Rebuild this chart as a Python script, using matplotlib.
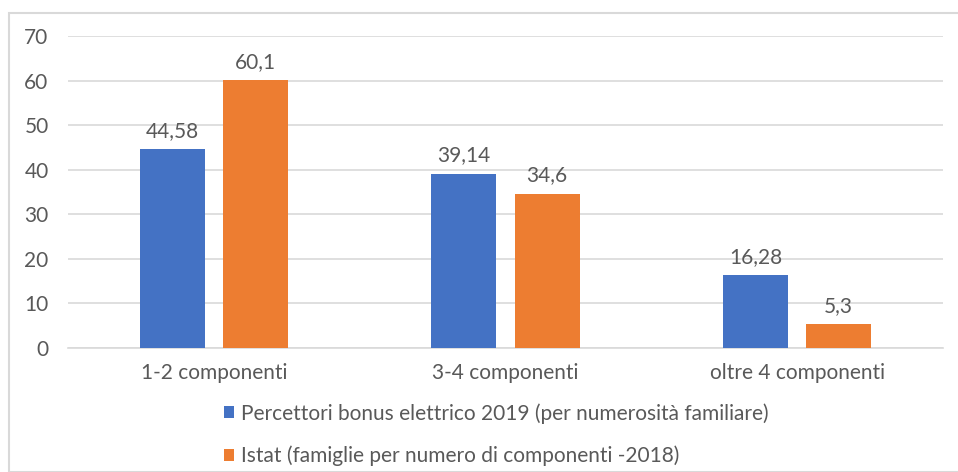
import matplotlib
matplotlib.use("Agg")
import matplotlib.pyplot as plt
import numpy as np
from matplotlib.patches import Rectangle

categories = ["1-2 componenti", "3-4 componenti", "oltre 4 componenti"]
series_names = [
    "Percettori bonus elettrico 2019 (per numerosità familiare)",
    "Istat (famiglie per numero di componenti -2018)",
]
bonus_2019 = [44.58, 39.14, 16.28]
istat_2018 = [60.1, 34.6, 5.3]
yticks = [0, 10, 20, 30, 40, 50, 60, 70]

BLUE = "#4472C4"
ORANGE = "#ED7D31"
GRID = "#D9D9D9"
TEXT = "#595959"

plt.rcParams["font.family"] = ["Lato", "DejaVu Sans"]
FS = 15

W, H = 958, 472
fig = plt.figure(figsize=(W / 100, H / 100), dpi=100)
fig.patch.set_facecolor("white")

# chart area border
fig.add_artist(Rectangle((9 / W, 0), 1.2, (H - 13) / H, transform=fig.transFigure,
                         fill=False, edgecolor=GRID, linewidth=1.5))

ax = fig.add_axes([68 / W, (H - 348) / H, (943 - 68) / W, (348 - 36) / H])
x = np.arange(len(categories))
bw = 0.223
gap = 0.062
off = (bw + gap) / 2

def fmt(v):
    return ("%g" % v).replace(".", ",")

b1 = ax.bar(x - off, bonus_2019, bw, color=BLUE, label=series_names[0], zorder=3)
b2 = ax.bar(x + off, istat_2018, bw, color=ORANGE, label=series_names[1], zorder=3)
for bars, vals in ((b1, bonus_2019), (b2, istat_2018)):
    for r, v in zip(bars, vals):
        ax.annotate(fmt(v), (r.get_x() + r.get_width() / 2, v), xytext=(0, 6),
                    textcoords="offset points", ha="center", va="bottom",
                    fontsize=FS, color=TEXT)

ax.set_xlim(-0.5, len(categories) - 0.5)
ax.set_ylim(0, 70)
ax.set_yticks(yticks)
ax.set_xticks(x)
ax.set_xticklabels(categories)
ax.tick_params(axis="both", length=0, labelsize=FS, labelcolor=TEXT)
ax.tick_params(axis="y", pad=14)
ax.tick_params(axis="x", pad=11)
ax.grid(axis="y", color=GRID, linewidth=1.2, zorder=0)
for s in ["top", "right", "left"]:
    ax.spines[s].set_visible(False)
ax.spines["bottom"].set_color(GRID)
ax.spines["bottom"].set_linewidth(1.2)

leg = fig.legend(handles=[b1, b2], loc="upper left", bbox_to_anchor=(224 / W, (H - 403) / H),
                 frameon=False, fontsize=FS, labelcolor=TEXT, handlelength=0.5,
                 handleheight=0.5, handletextpad=0.3, labelspacing=1.05, borderpad=0,
                 borderaxespad=0)

fig.savefig("out.png", dpi=100)
